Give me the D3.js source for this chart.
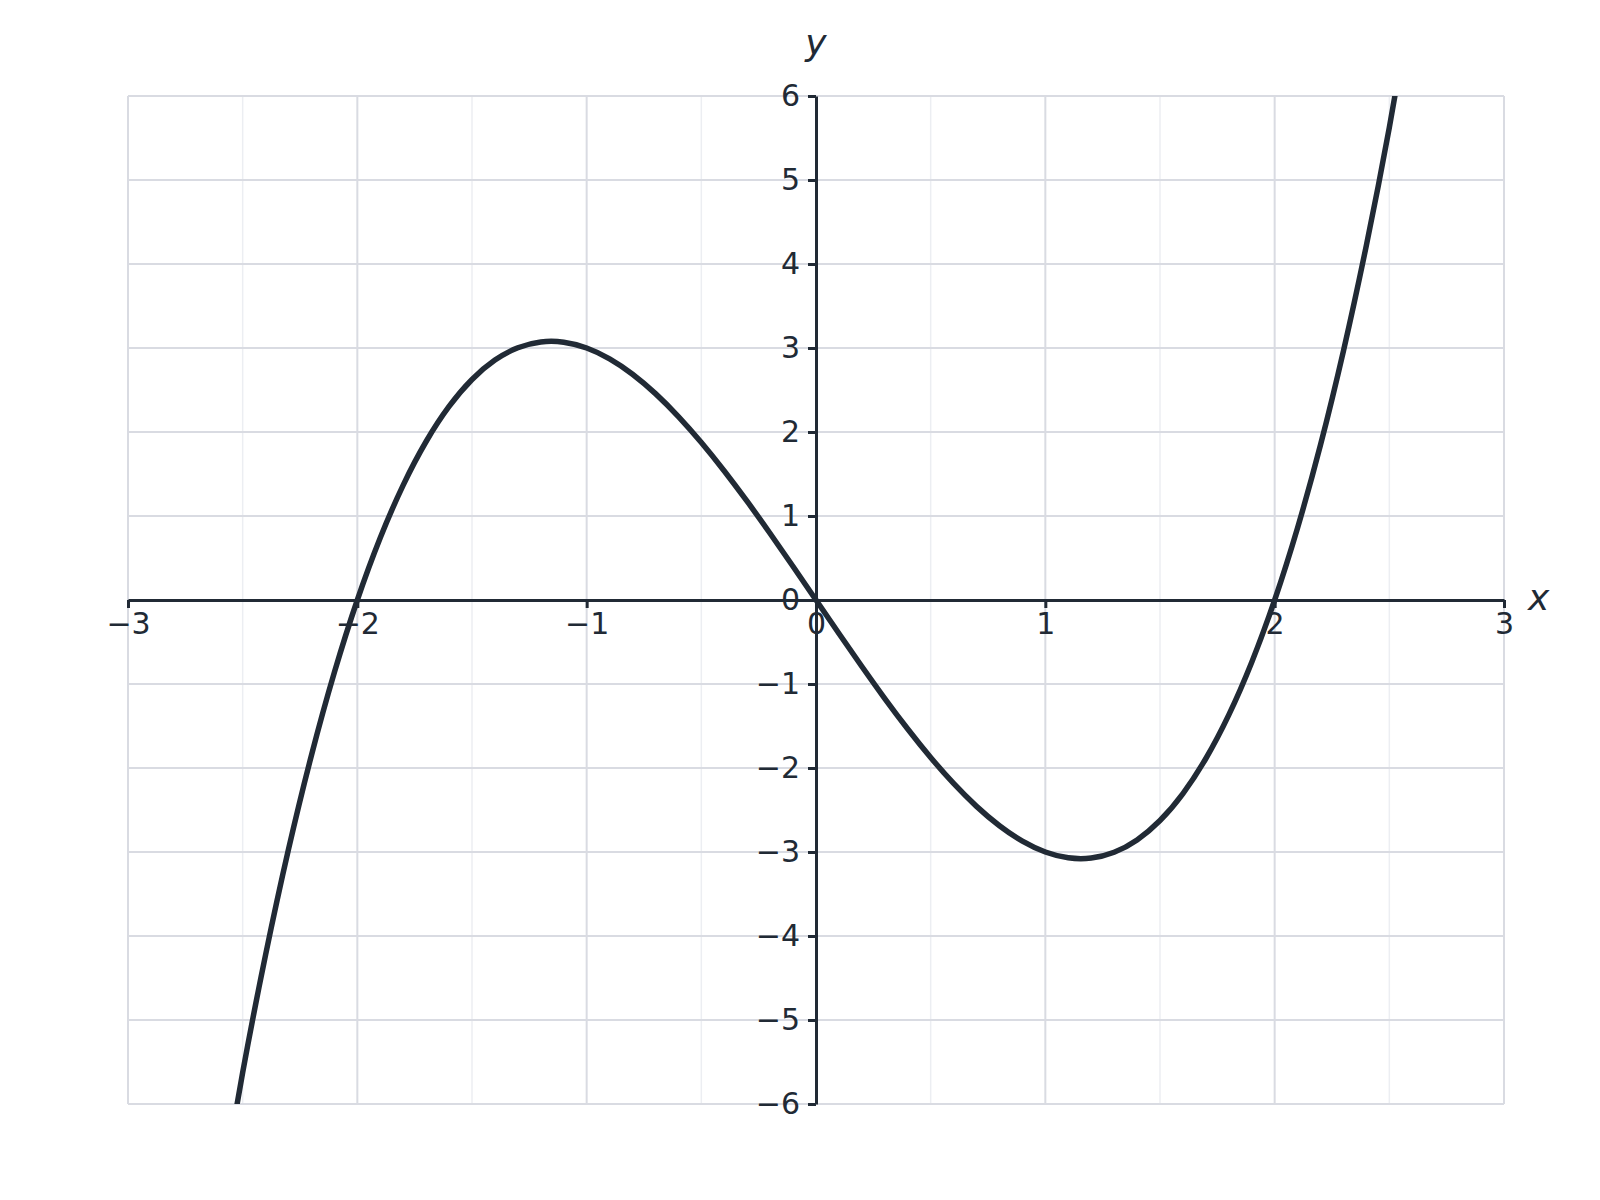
<!DOCTYPE html>
<html>
<head>
<meta charset="utf-8">
<script src="https://cdn.jsdelivr.net/npm/d3@7"></script>
<style>
  body { margin: 0; background: #fff; }
  svg { display: block; font-family: "DejaVu Sans", sans-serif; }
</style>
</head>
<body>
<svg id="chart" width="1600" height="1200"></svg>
<script>
// values
var xValues = [-2.6, -2.5, -2.4, -2.3, -2.2, -2.1, -2.0, -1.9, -1.8, -1.7, -1.6, -1.5, -1.4, -1.3,
  -1.2, -1.1, -1.0, -0.9, -0.8, -0.7, -0.6, -0.5, -0.4, -0.3, -0.2, -0.1, 0,
  0.1, 0.2, 0.3, 0.4, 0.5, 0.6, 0.7, 0.8, 0.9, 1.0, 1.1, 1.2, 1.3, 1.4,
  1.5, 1.6, 1.7, 1.8, 1.9, 2.0, 2.1, 2.2, 2.3, 2.4, 2.5, 2.6];
var yValues = [-7.176, -5.625, -4.224, -2.967, -1.848, -0.861, 0, 0.741, 1.368, 1.887, 2.304, 2.625, 2.856, 3.003,
  3.072, 3.069, 3.000, 2.871, 2.688, 2.457, 2.184, 1.875, 1.536, 1.173, 0.792, 0.399, 0,
  -0.399, -0.792, -1.173, -1.536, -1.875, -2.184, -2.457, -2.688, -2.871, -3.000, -3.069, -3.072, -3.003, -2.856,
  -2.625, -2.304, -1.887, -1.368, -0.741, 0, 0.861, 1.848, 2.967, 4.224, 5.625, 7.176];
var xTicks = [-3, -2, -1, 0, 1, 2, 3];
var xMinor = [-2.5, -1.5, -0.5, 0.5, 1.5, 2.5];
var yTicks = [-6, -5, -4, -3, -2, -1, 0, 1, 2, 3, 4, 5, 6];

var ink = "#212a35";
var svg = d3.select("#chart");

var x = d3.scaleLinear().domain([-3, 3]).range([128, 1504]);
var y = d3.scaleLinear().domain([-6, 6]).range([1104, 96]);

// grid
var grid = svg.append("g");
grid.selectAll("line.minor")
  .data(xMinor)
  .join("line")
  .attr("x1", d => x(d)).attr("x2", d => x(d))
  .attr("y1", y(6)).attr("y2", y(-6))
  .attr("stroke", "#eceef2").attr("stroke-width", 1.5);
grid.selectAll("line.vx")
  .data(xTicks)
  .join("line")
  .attr("x1", d => x(d)).attr("x2", d => x(d))
  .attr("y1", y(6)).attr("y2", y(-6))
  .attr("stroke", "#d9dbe2").attr("stroke-width", 2);
grid.selectAll("line.hy")
  .data(yTicks)
  .join("line")
  .attr("x1", x(-3)).attr("x2", x(3))
  .attr("y1", d => y(d)).attr("y2", d => y(d))
  .attr("stroke", "#d9dbe2").attr("stroke-width", 2);

// curve
svg.append("clipPath").attr("id", "plotclip")
  .append("rect")
  .attr("x", x(-3)).attr("y", y(6))
  .attr("width", x(3) - x(-3)).attr("height", y(-6) - y(6));

var pts = xValues.map((v, i) => [v, yValues[i]]);
var line = d3.line()
  .x(d => x(d[0]))
  .y(d => y(d[1]))
  .curve(d3.curveNatural);

svg.append("path")
  .attr("clip-path", "url(#plotclip)")
  .attr("d", line(pts))
  .attr("fill", "none")
  .attr("stroke", ink)
  .attr("stroke-width", 5.5)
  .attr("stroke-linejoin", "round");

// axes through the origin
var fmt = d3.format("d");
var xAxis = svg.append("g")
  .attr("transform", "translate(0," + y(0) + ")")
  .call(d3.axisBottom(x).tickValues(xTicks).tickFormat(fmt)
    .tickSize(8).tickSizeOuter(0).tickPadding(5));
var yAxis = svg.append("g")
  .attr("transform", "translate(" + x(0) + ",0)")
  .call(d3.axisLeft(y).tickValues(yTicks).tickFormat(fmt)
    .tickSize(8).tickSizeOuter(0).tickPadding(8));

[xAxis, yAxis].forEach(function(a) {
  a.selectAll("path.domain").attr("stroke", ink).attr("stroke-width", 3);
  a.selectAll(".tick line").attr("stroke", ink).attr("stroke-width", 3);
  a.selectAll(".tick text")
    .attr("fill", ink)
    .style("font-family", "'DejaVu Sans', sans-serif")
    .style("font-size", "30px");
});

// axis titles
svg.append("text")
  .attr("x", x(3) + 24).attr("y", y(0) + 10)
  .attr("fill", ink)
  .style("font-size", "36px").style("font-style", "italic")
  .text("x");
svg.append("text")
  .attr("x", x(0)).attr("y", 55)
  .attr("text-anchor", "middle")
  .attr("fill", ink)
  .style("font-size", "36px").style("font-style", "italic")
  .text("y");
</script>
</body>
</html>
